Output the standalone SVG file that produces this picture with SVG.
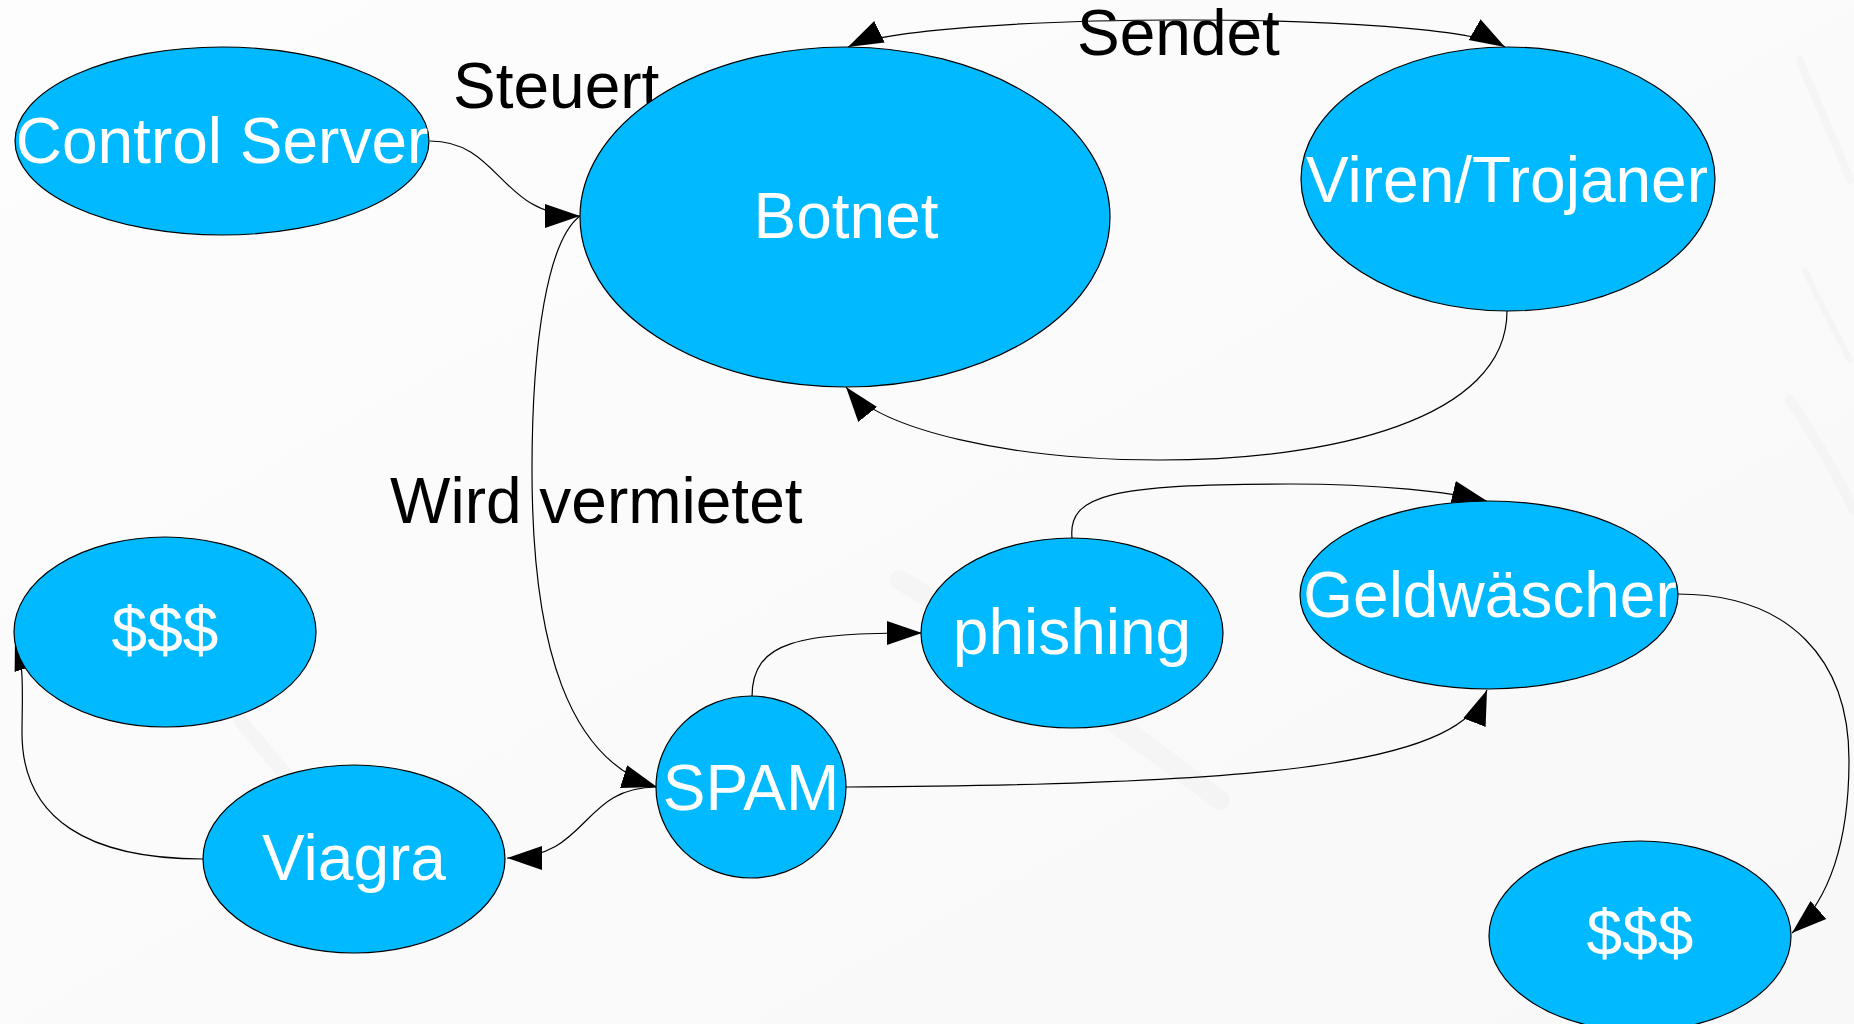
<svg xmlns="http://www.w3.org/2000/svg" width="1854" height="1024" viewBox="0 0 1854 1024">
<defs>
<style>
.node ellipse{fill:#00b9ff;stroke:#000;stroke-width:1.2}
.node text{fill:#fff;font-family:"Liberation Sans",Arial,sans-serif;font-size:64px;text-anchor:middle}
.lbl{fill:#000;font-family:"Liberation Sans",Arial,sans-serif;font-size:64px}
.edge{fill:none;stroke:#000;stroke-width:1.2}
.streak{fill:none;stroke:#ececec;stroke-linecap:round}
</style>
<marker id="ah" markerUnits="userSpaceOnUse" markerWidth="36" markerHeight="26" viewBox="0 0 36 26" refX="35" refY="13" orient="auto-start-reverse">
<path d="M0,1 L35,13 L0,25 z" fill="#000"/>
</marker>
<linearGradient id="bg" x1="0" y1="0" x2="1" y2="1">
<stop offset="0" stop-color="#fdfdfd"/>
<stop offset="1" stop-color="#f8f8f8"/>
</linearGradient>
</defs>
<rect width="1854" height="1024" fill="url(#bg)"/>
<g id="background" opacity="0.35">
<path class="streak" stroke-width="8" d="M1800,60 C1815,100 1835,140 1850,180"/>
<path class="streak" stroke-width="6" d="M1805,270 C1818,300 1835,330 1850,360"/>
<path class="streak" stroke-width="10" d="M1790,400 C1810,430 1835,470 1854,510"/>
<path class="streak" stroke-width="20" d="M900,580 C1000,640 1100,710 1220,800"/>
<path class="streak" stroke-width="14" d="M240,720 C290,780 340,840 400,920"/>
</g>
<g id="connectors">
<path id="e-control-botnet" class="edge" d="M430,141 C500,141 500,216 580,216" marker-end="url(#ah)"/>
<path id="e-botnet-viren" class="edge" d="M848,47 C920,12 1440,10 1505,47" marker-start="url(#ah)" marker-end="url(#ah)"/>
<path id="e-viren-botnet" class="edge" d="M1507,311 C1507,420 1330,460 1160,460 C1010,460 880,430 846,387" marker-end="url(#ah)"/>
<path id="e-botnet-spam" class="edge" d="M580,216 C548,240 532,340 532,470 C532,650 570,760 657,787" marker-end="url(#ah)"/>
<path id="e-spam-viagra" class="edge" d="M657,787 C580,787 590,858 507,858" marker-end="url(#ah)"/>
<path id="e-spam-phishing" class="edge" d="M752,697 C752,640 800,633 922,633" marker-end="url(#ah)"/>
<path id="e-phishing-geld" class="edge" d="M1072,538 C1068,495 1110,484 1290,484 C1380,484 1450,492 1487,501" marker-end="url(#ah)"/>
<path id="e-spam-geld" class="edge" d="M846,787 C1300,785 1460,760 1487,690" marker-end="url(#ah)"/>
<path id="e-geld-dollar" class="edge" d="M1677,594 C1790,594 1849,660 1849,760 C1849,840 1830,900 1792,933" marker-end="url(#ah)"/>
<path id="e-viagra-dollar" class="edge" d="M203,859 C90,859 22,820 22,733 C22,700 25,665 15,635" marker-end="url(#ah)"/>
</g>
<g id="labels">
<text class="lbl" x="453" y="108">Steuert</text>
<text class="lbl" x="1077" y="55">Sendet</text>
<text class="lbl" x="390" y="523">Wird vermietet</text>
</g>
<g id="node-control-server" class="node">
<ellipse cx="222" cy="141" rx="207" ry="94"/>
<text x="222" y="163">Control Server</text>
</g>
<g id="node-botnet" class="node">
<ellipse cx="845" cy="217" rx="265" ry="170"/>
<text x="846" y="238">Botnet</text>
</g>
<g id="node-viren" class="node">
<ellipse cx="1508" cy="179" rx="207" ry="132"/>
<text x="1507" y="202">Viren/Trojaner</text>
</g>
<g id="node-dollar-left" class="node">
<ellipse cx="165" cy="632" rx="151" ry="95"/>
<text x="165" y="652">$$$</text>
</g>
<g id="node-viagra" class="node">
<ellipse cx="354" cy="859" rx="151" ry="94"/>
<text x="354" y="880">Viagra</text>
</g>
<g id="node-spam" class="node">
<ellipse cx="751" cy="787" rx="95" ry="91"/>
<text x="751" y="810">SPAM</text>
</g>
<g id="node-phishing" class="node">
<ellipse cx="1072" cy="633" rx="151" ry="95"/>
<text x="1072" y="654">phishing</text>
</g>
<g id="node-geldwaescher" class="node">
<ellipse cx="1489" cy="595" rx="189" ry="94"/>
<text x="1490" y="617">Geldwäscher</text>
</g>
<g id="node-dollar-right" class="node">
<ellipse cx="1640" cy="936" rx="151" ry="95"/>
<text x="1640" y="955">$$$</text>
</g>
</svg>
